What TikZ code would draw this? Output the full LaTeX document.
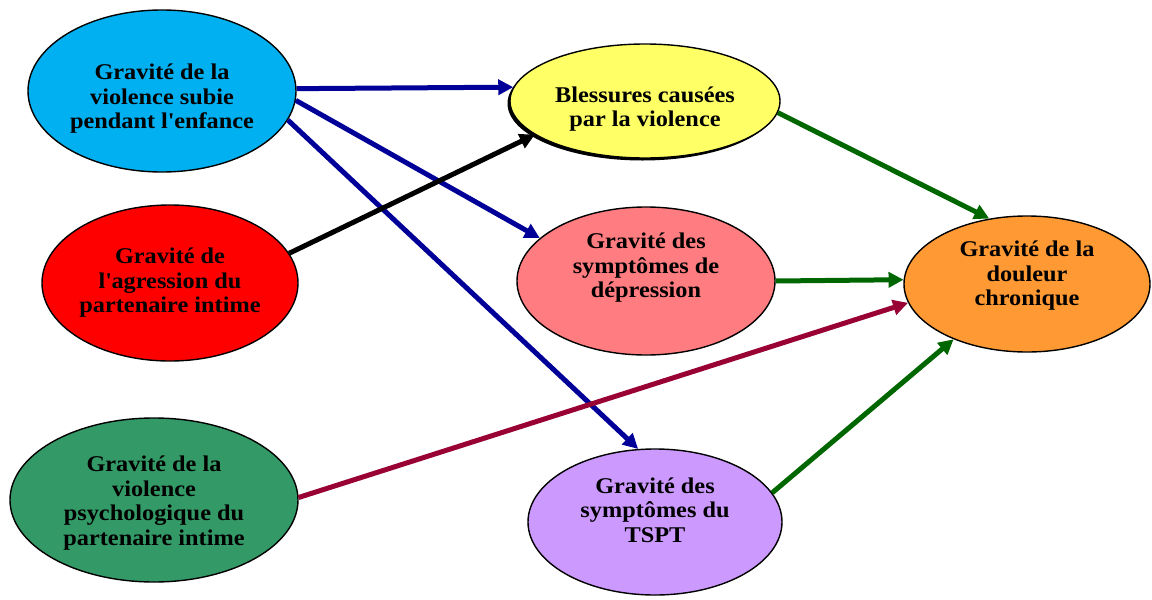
\documentclass[tikz,border=0pt]{standalone}
\usepackage{fontspec}
\setmainfont{Liberation Serif}[FakeStretch=1.08]
\usetikzlibrary{shapes.geometric,arrows.meta,shadows}
\definecolor{cblue}{HTML}{00B0F0}
\definecolor{cred}{HTML}{FF0000}
\definecolor{cgreen}{HTML}{339966}
\definecolor{cyellow}{HTML}{FFFF66}
\definecolor{cpink}{HTML}{FF7C80}
\definecolor{cpurple}{HTML}{CC99FF}
\definecolor{corange}{HTML}{FF9933}
\definecolor{adblue}{HTML}{000099}
\definecolor{admaroon}{HTML}{990033}
\definecolor{adgreen}{HTML}{006600}
\begin{document}
\begin{tikzpicture}[x=1pt,y=-1pt,
  oval/.style={ellipse,draw=black,line width=1.4pt,inner sep=0pt},
  lbl/.style={font=\fontsize{22.5}{24.5}\selectfont\bfseries,align=center},
  conn/.style={line width=5pt,-{Triangle[length=15pt,width=15pt]}}]
\useasboundingbox (0,0) rectangle (1152,600);
\node[oval,fill=cblue,minimum width=268pt,minimum height=162pt] (viol) at (162,91)
  {};
\node[lbl] (violt) at (162,99) {Gravité de la\\violence subie\\pendant l\textquotesingle enfance};
\node[oval,fill=cred,minimum width=256pt,minimum height=156pt] (agr) at (170,283) {};
\node[lbl] (agrt) at (170,283) {Gravité de\\l\textquotesingle agression du\\partenaire intime};
\node[oval,fill=cgreen,minimum width=288pt,minimum height=164pt] (psy) at (154,500) {};
\node[lbl] (psyt) at (154,503) {Gravité de la\\violence\\psychologique du\\partenaire intime};
\node[oval,fill=cyellow,minimum width=270pt,minimum height=114pt,
  drop shadow={shadow xshift=-2.5pt,shadow yshift=-2.5pt,opacity=1,fill=black}] (bles) at (645,101) {};
\node[lbl] (blest) at (645,109) {Blessures causées\\par la violence};
\node[oval,fill=cpink,minimum width=258pt,minimum height=148pt] (dep) at (646,281) {};
\node[lbl] (dept) at (646,268) {Gravité des\\symptômes de\\dépression};
\node[oval,fill=cpurple,minimum width=254pt,minimum height=146pt] (tspt) at (655,522) {};
\node[lbl] (tsptt) at (655,510) {Gravité des\\symptômes du\\TSPT};
\node[oval,fill=corange,minimum width=246pt,minimum height=136pt] (dou) at (1027,284) {};
\node[lbl] (dout) at (1027,276) {Gravité de la\\douleur\\chronique};
\draw[conn,adblue] (viol.1) -- (bles.174);
\draw[conn,adblue] (viol.-4) -- (dep.158);
\draw[conn,adblue] (viol.-13) -- (tspt.103);
\draw[conn,black] (agr.14) -- (bles.197);
\draw[conn,admaroon] (psy.1) -- (dou.189);
\draw[conn,adgreen] (bles.-5) -- (dou.120);
\draw[conn,adgreen] (dep.0) -- (dou.178);
\draw[conn,adgreen] (tspt.14) -- (dou.217);
\end{tikzpicture}
\end{document}
